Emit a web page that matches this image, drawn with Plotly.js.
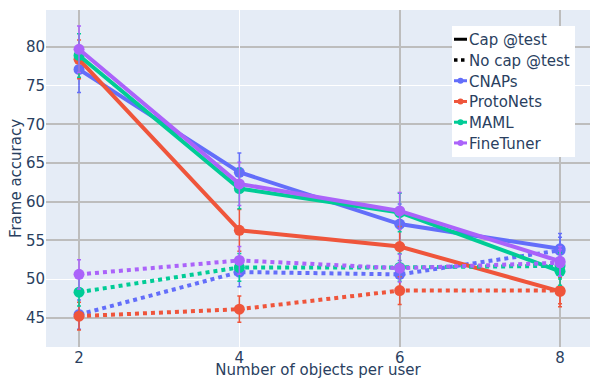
<!DOCTYPE html>
<html>
<head>
<meta charset="utf-8">
<script src="https://cdn.plot.ly/plotly-3.0.1.min.js"></script>
<style>
html, body { margin: 0; padding: 0; background: #fff; }
#chart { width: 590px; height: 379px; }
</style>
</head>
<body>
<div id="chart"></div>
<script>
// ---- data ----
const objectsPerUser = [2, 4, 6, 8];
const models = ['CNAPs', 'ProtoNets', 'MAML', 'FineTuner'];
const modelColors = ['#636EFA', '#EF553B', '#00CC96', '#AB63FA'];

// Frame accuracy with cap @test
const capCNAPs     = [77.1, 63.8, 57.1, 53.9];
const capProtoNets = [78.4, 56.3, 54.2, 48.4];
const capMAML      = [78.9, 61.7, 58.6, 51.0];
const capFineTuner = [79.7, 62.3, 58.8, 52.3];
// error (+/-)
const capErrCNAPs     = [3.0, 2.5, 2.6, 2.0];
const capErrProtoNets = [2.5, 2.7, 2.6, 2.0];
const capErrMAML      = [2.8, 2.6, 2.5, 1.8];
const capErrFineTuner = [3.0, 2.8, 2.4, 1.9];

// Frame accuracy without cap @test
const noCapCNAPs     = [45.4, 50.9, 50.6, 53.7];
const noCapProtoNets = [45.2, 46.1, 48.5, 48.5];
const noCapMAML      = [48.3, 51.5, 51.5, 51.7];
const noCapFineTuner = [50.6, 52.4, 51.4, 52.1];
const noCapErrCNAPs     = [1.9, 1.9, 1.8, 1.7];
const noCapErrProtoNets = [1.8, 1.7, 1.8, 1.7];
const noCapErrMAML      = [1.8, 1.8, 1.8, 1.7];
const noCapErrFineTuner = [1.9, 1.8, 1.8, 1.7];

const xTickGrey = [2, 6, 8];
const xTickWhite = [4];
const yTickGrey = [45, 55, 60, 65, 70, 80];
const yTickWhite = [50, 75];

const capSeries = [capCNAPs, capProtoNets, capMAML, capFineTuner];
const capErrs = [capErrCNAPs, capErrProtoNets, capErrMAML, capErrFineTuner];
const noCapSeries = [noCapCNAPs, noCapProtoNets, noCapMAML, noCapFineTuner];
const noCapErrs = [noCapErrCNAPs, noCapErrProtoNets, noCapErrMAML, noCapErrFineTuner];

const FONT = 'DejaVu Sans';
const TXT = '#2a3f5f';
const FS = 15;

const traces = [];
models.forEach((m, i) => {
  traces.push({
    x: objectsPerUser, y: capSeries[i], type: 'scatter', mode: 'lines+markers',
    name: m, showlegend: false,
    line: {color: modelColors[i], width: 4},
    marker: {color: modelColors[i], size: 11},
    error_y: {type: 'data', array: capErrs[i], visible: true, color: modelColors[i], thickness: 1.5, width: 2}
  });
  traces.push({
    x: objectsPerUser, y: noCapSeries[i], type: 'scatter', mode: 'lines+markers',
    name: m, showlegend: false,
    line: {color: modelColors[i], width: 4, dash: 'dot'},
    marker: {color: modelColors[i], size: 11},
    error_y: {type: 'data', array: noCapErrs[i], visible: true, color: modelColors[i], thickness: 1.5, width: 2}
  });
});
// legend-only entries
traces.push({x: [null], y: [null], type: 'scatter', mode: 'lines', name: 'Cap @test',
  line: {color: 'black', width: 3}});
traces.push({x: [null], y: [null], type: 'scatter', mode: 'lines', name: 'No cap @test',
  line: {color: 'black', width: 3.5, dash: 'dot'}});
models.forEach((m, i) => {
  traces.push({x: [null], y: [null], type: 'scatter', mode: 'lines+markers', name: m,
    line: {color: modelColors[i], width: 3}, marker: {color: modelColors[i], size: 6}});
});
// helper trace for overlay axes
traces.push({x: [null], y: [null], xaxis: 'x2', yaxis: 'y2', type: 'scatter', mode: 'markers',
  showlegend: false, hoverinfo: 'skip'});

const xRange = [1.588, 8.374];
const yRange = [41.21, 84.78];

const layout = {
  width: 590, height: 379,
  margin: {l: 46, r: 0, t: 10, b: 32},
  paper_bgcolor: 'white',
  plot_bgcolor: '#E5ECF6',
  font: {family: FONT, size: FS, color: TXT},
  showlegend: true,
  legend: {x: 0.6, y: 0.955, xanchor: 'left', yanchor: 'top', bgcolor: 'white',
    font: {family: FONT, size: FS, color: TXT}, tracegroupgap: 0},
  xaxis: {
    range: xRange, tickvals: xTickGrey, ticktext: xTickGrey.map(String),
    showgrid: true, gridcolor: '#bdbdbd', gridwidth: 2, zeroline: false,
    showline: false, ticks: '', automargin: false,
    tickfont: {family: FONT, size: FS, color: TXT},
    title: {text: 'Number of objects per user', font: {family: FONT, size: FS, color: TXT}, standoff: 3}
  },
  xaxis2: {
    overlaying: 'x', anchor: 'y', side: 'bottom', matches: 'x',
    tickvals: xTickWhite, ticktext: xTickWhite.map(String),
    showgrid: true, gridcolor: 'white', gridwidth: 1, zeroline: false, ticks: '',
    tickfont: {family: FONT, size: FS, color: TXT}
  },
  yaxis: {
    range: yRange, tickvals: yTickGrey, ticktext: yTickGrey.map(String),
    showgrid: true, gridcolor: '#bdbdbd', gridwidth: 2, zeroline: false,
    showline: false, ticks: '', automargin: false,
    tickfont: {family: FONT, size: FS, color: TXT},
    title: {text: 'Frame accuracy', font: {family: FONT, size: FS, color: TXT}, standoff: 0}
  },
  yaxis2: {
    overlaying: 'y', anchor: 'x', side: 'left', matches: 'y',
    tickvals: yTickWhite, ticktext: yTickWhite.map(String),
    showgrid: true, gridcolor: 'white', gridwidth: 1, zeroline: false, ticks: '',
    tickfont: {family: FONT, size: FS, color: TXT}
  }
};

Plotly.newPlot('chart', traces, layout, {displayModeBar: false, staticPlot: true}).then(gd => {
  // compact legend symbols and row spacing
  const ROW = 20.74;
  const parseT = el => {
    const m = /translate\(\s*([-\d.]+)[ ,]+([-\d.]+)\s*\)/.exec(el.getAttribute('transform') || '');
    return m ? [parseFloat(m[1]), parseFloat(m[2])] : [0, 0];
  };
  const items = Array.from(gd.querySelectorAll('.legend .traces'));
  let origSpacing = ROW;
  if (items.length > 1) origSpacing = parseT(items[1])[1] - parseT(items[0])[1];
  const first = items.length ? parseT(items[0]) : [0, 0];
  items.forEach((g, i) => {
    const lp = g.querySelector('.legendlines path');
    const da = lp ? (lp.style.strokeDasharray || '') : '';
    const dotted = da.length > 0 && da !== 'none';
    g.querySelectorAll('.legendlines path').forEach(p => p.setAttribute('d', dotted ? 'M2,0h11' : 'M2,0h13'));
    g.querySelectorAll('.legendpoints path').forEach(p => p.setAttribute('transform', 'translate(8.5,0)'));
    const t = g.querySelector('.legendtext');
    if (t) t.setAttribute('x', 17);
    const tr = parseT(g);
    g.setAttribute('transform', 'translate(' + tr[0] + ',' + (first[1] - 3 + i * ROW) + ')');
  });
  const bg = gd.querySelector('.legend .bg');
  if (bg) {
    const w = parseFloat(bg.getAttribute('width'));
    bg.setAttribute('width', w - 23);
    const h = parseFloat(bg.getAttribute('height'));
    bg.setAttribute('height', h - (origSpacing - ROW) * (items.length - 1) - 5);
  }
  const leg = gd.querySelector('g.legend');
  if (leg) leg.setAttribute('transform', 'translate(452,26)');
});
</script>
</body>
</html>
